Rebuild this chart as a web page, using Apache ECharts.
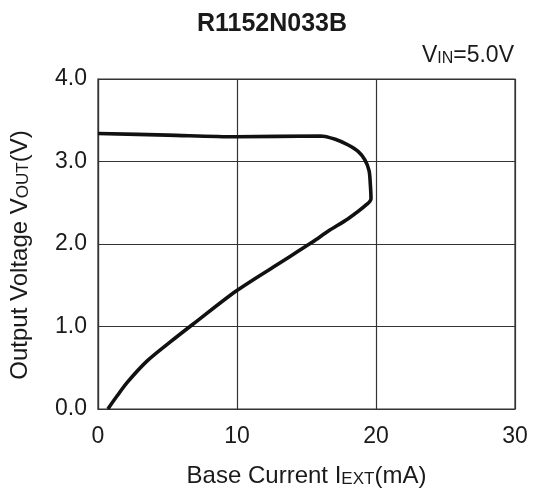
<!DOCTYPE html>
<html>
<head>
<meta charset="utf-8">
<script src="https://cdn.jsdelivr.net/npm/echarts@6/dist/echarts.min.js"></script>
<style>html,body{margin:0;padding:0;background:#fff}#c{width:540px;height:493px}</style>
</head>
<body>
<div id="c"></div>
<script>
// Base current IEXT (mA)
var iext = [0.0, 5.0, 9.94, 16.0, 17.07, 18.0, 18.73, 19.2, 19.5, 19.59, 19.64, 19.33, 18.02, 16.6, 15.4, 12.79, 9.94, 6.85, 5.18, 3.52, 2.09, 1.38, 0.71];
// Output voltage VOUT (V)
var vout = [3.34, 3.32, 3.30, 3.31, 3.27, 3.20, 3.12, 3.02, 2.89, 2.73, 2.55, 2.48, 2.31, 2.16, 2.02, 1.74, 1.43, 1.03, 0.81, 0.58, 0.32, 0.16, 0.0];
var xTicks = [0, 10, 20, 30];
var yTicks = [0.0, 1.0, 2.0, 3.0, 4.0];

var pts = iext.map(function (x, i) { return [x, vout[i]]; });
var FONT = '"Liberation Sans", Arial, sans-serif';
var TXT = '#1a1a1a';
var richName = {
  a: { fontFamily: FONT, fontSize: 24, color: TXT },
  s: { fontFamily: FONT, fontSize: 17, color: TXT, padding: [6, 0, 0, 0] }
};
var chart = echarts.init(document.getElementById('c'));
chart.setOption({
  animation: false,
  title: {
    text: 'R1152N033B',
    left: 267, top: 7, textAlign: 'center',
    textStyle: { fontFamily: FONT, fontWeight: 'bold', fontSize: 25, color: TXT }
  },
  graphic: [{
    type: 'text', right: 26, top: 44,
    style: {
      text: '{a|V}{s|IN}{a|=5.0V}',
      rich: {
        a: { fontFamily: FONT, fontSize: 23, fill: TXT },
        s: { fontFamily: FONT, fontSize: 16, fill: TXT, padding: [6, 0, 0, 0] }
      }
    }
  }],
  grid: { left: 93, right: 25, top: 79, bottom: 76, show: true, borderColor: '#333', borderWidth: 1.2 },
  xAxis: {
    type: 'value', min: 0, max: 30, interval: 10,
    name: '{a|Base Current I}{s|EXT}{a|(mA)}',
    nameLocation: 'middle', nameGap: 55,
    nameTextStyle: { rich: richName },
    axisLine: { show: true, lineStyle: { color: '#333', width: 1.2 } },
    axisTick: { show: false },
    splitLine: { show: true, lineStyle: { color: '#333', width: 1.2 } },
    axisLabel: {
      margin: 16, fontFamily: FONT, fontSize: 23, color: TXT,
      formatter: function (v) { return xTicks.indexOf(v) >= 0 ? String(v) : ''; }
    }
  },
  yAxis: {
    type: 'value', min: 0, max: 4, interval: 1,
    name: '{a|Output Voltage V}{s|OUT}{a|(V)}',
    nameLocation: 'middle', nameGap: 66,
    nameTextStyle: { rich: richName, padding: [0, 22, 0, 0] },
    axisLine: { show: true, lineStyle: { color: '#333', width: 1.2 } },
    axisTick: { show: false },
    splitLine: { show: true, lineStyle: { color: '#333', width: 1.2 } },
    axisLabel: {
      margin: 11, fontFamily: FONT, fontSize: 23, color: TXT,
      formatter: function (v) { return v.toFixed(1); }
    }
  },
  series: [{
    type: 'line', data: pts, showSymbol: false, smooth: 0.3,
    lineStyle: { color: '#111', width: 3.6 }
  }]
});
</script>
</body>
</html>
